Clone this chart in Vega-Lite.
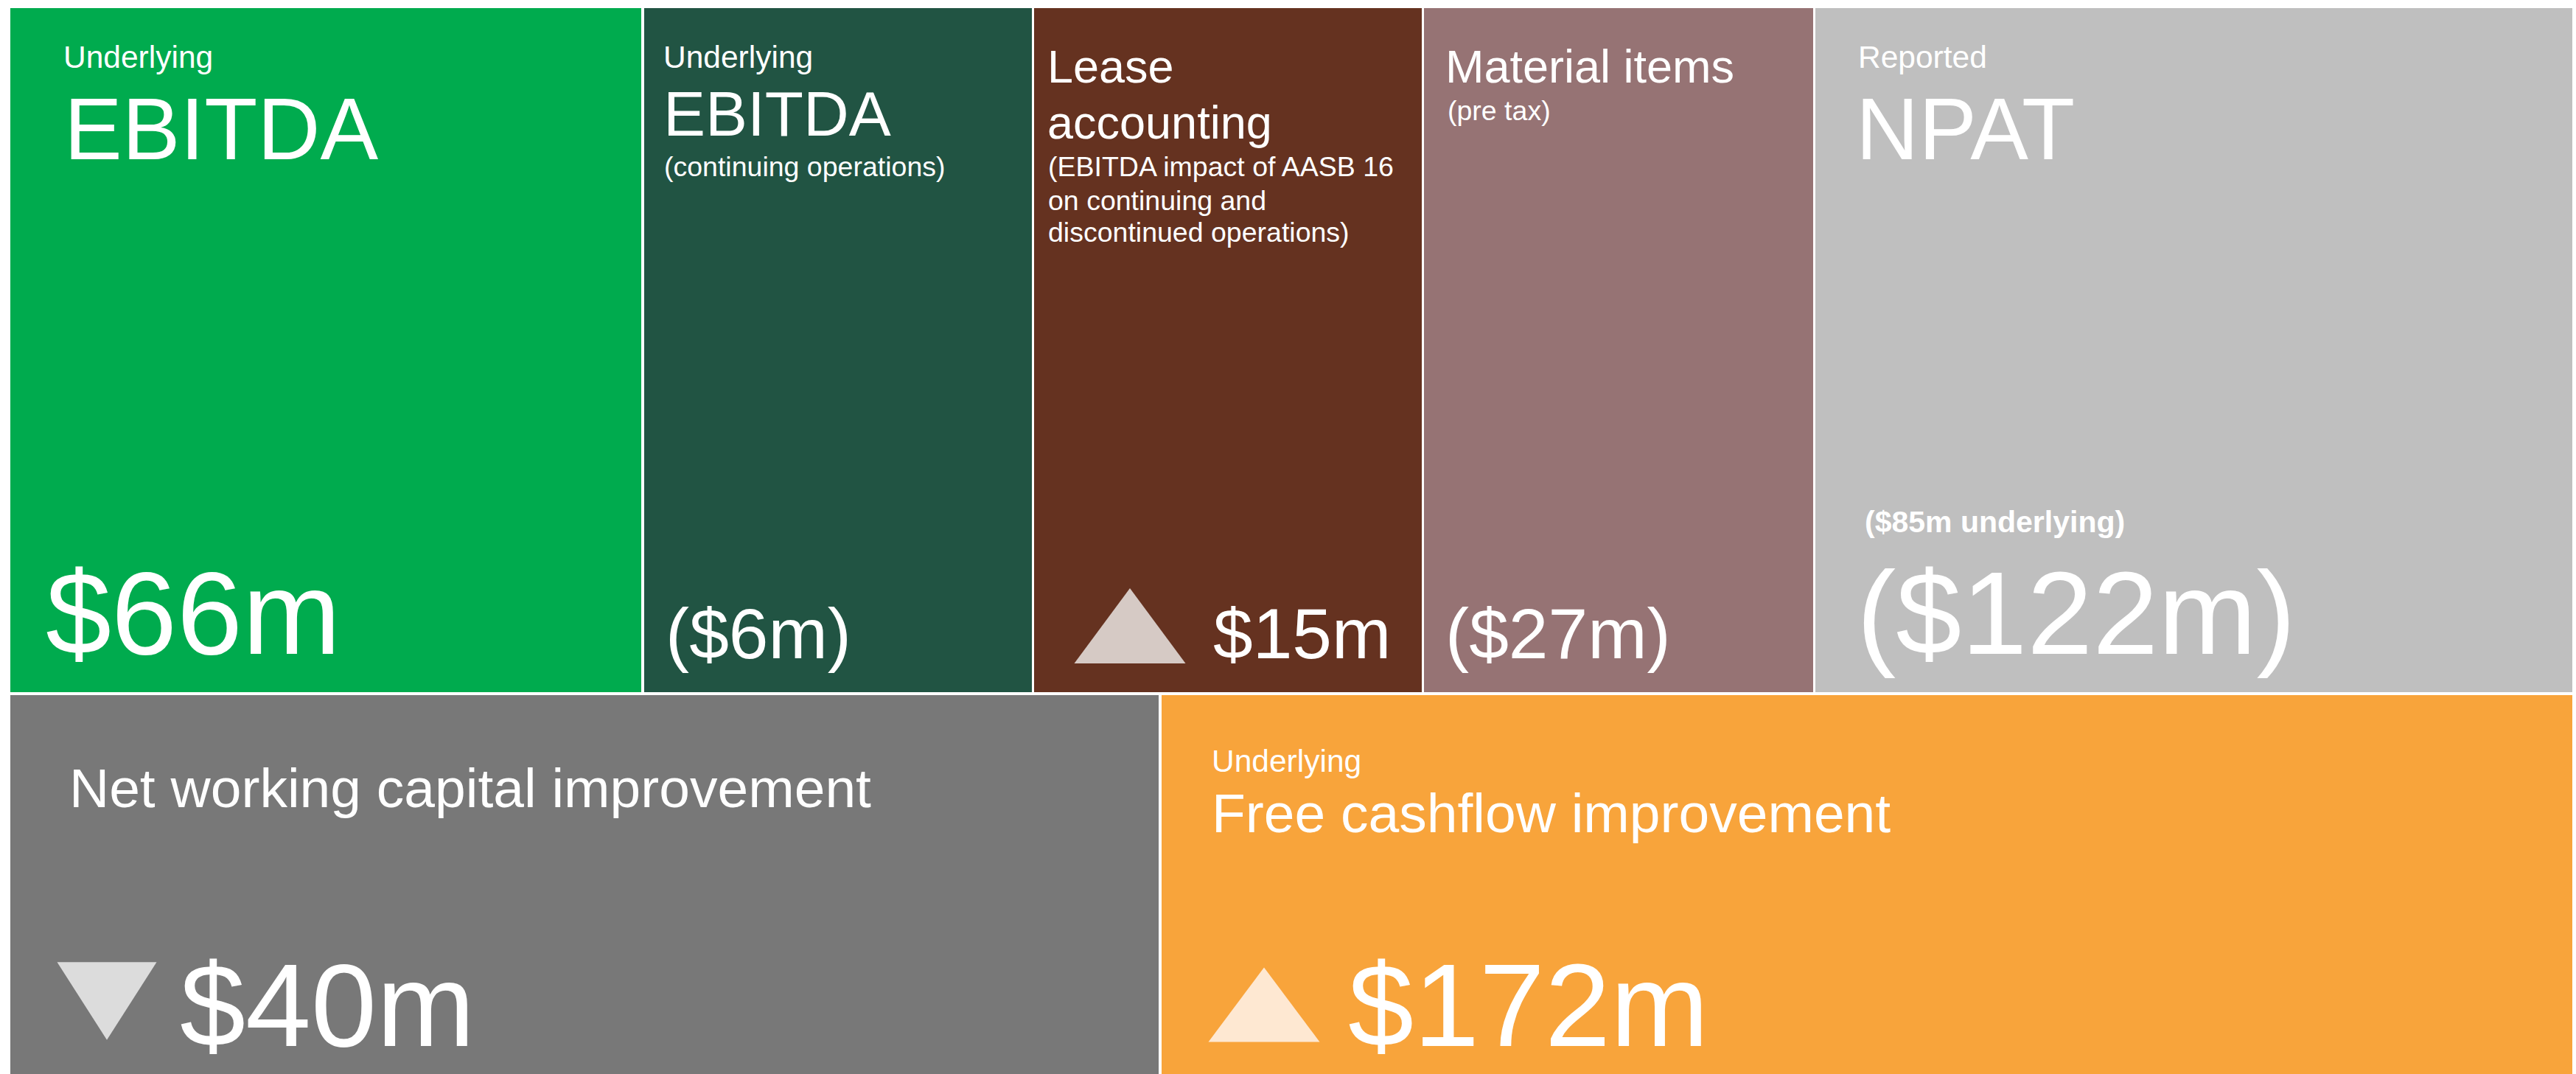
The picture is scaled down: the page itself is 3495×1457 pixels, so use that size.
{
  "$schema": "https://vega.github.io/schema/vega-lite/v6.json",
  "width": 3495,
  "height": 1457,
  "autosize": {"type": "fit", "contains": "padding"},
  "padding": 0,
  "background": "white",
  "config": {"view": {"stroke": null}},
  "datasets": {
    "tiles": [
      {"tile": "Underlying EBITDA", "x0": 14, "x1": 870, "y0": 11, "y1": 939},
      {"tile": "Underlying EBITDA (continuing operations)", "x0": 874, "x1": 1400, "y0": 11, "y1": 939},
      {"tile": "Lease accounting", "x0": 1403, "x1": 1929, "y0": 11, "y1": 939},
      {"tile": "Material items", "x0": 1932, "x1": 2460, "y0": 11, "y1": 939},
      {"tile": "Reported NPAT", "x0": 2463, "x1": 3490, "y0": 11, "y1": 939},
      {"tile": "Net working capital improvement", "x0": 14, "x1": 1572, "y0": 943, "y1": 1457},
      {"tile": "Free cashflow improvement", "x0": 1576, "x1": 3490, "y0": 943, "y1": 1457}
    ],
    "texts": [
      {"role": "kicker", "text": "Underlying", "x": 86, "y": 92},
      {"role": "title116", "text": "EBITDA", "x": 87, "y": 216},
      {"role": "value157", "text": "$66m", "x": 62, "y": 887},
      {"role": "kicker", "text": "Underlying", "x": 900, "y": 92},
      {"role": "title84", "text": "EBITDA", "x": 900, "y": 184},
      {"role": "sub", "text": "(continuing operations)", "x": 901, "y": 239},
      {"role": "value95", "text": "($6m)", "x": 903, "y": 893},
      {"role": "title62", "text": "Lease", "x": 1421, "y": 112},
      {"role": "title62", "text": "accounting", "x": 1421, "y": 188},
      {"role": "sub", "text": "(EBITDA impact of AASB 16", "x": 1422, "y": 239},
      {"role": "sub", "text": "on continuing and", "x": 1422, "y": 285},
      {"role": "sub", "text": "discontinued operations)", "x": 1422, "y": 328},
      {"role": "value95", "text": "$15m", "x": 1646, "y": 893},
      {"role": "title62", "text": "Material items", "x": 1961, "y": 112},
      {"role": "sub", "text": "(pre tax)", "x": 1964, "y": 163},
      {"role": "value95", "text": "($27m)", "x": 1961, "y": 893},
      {"role": "kicker", "text": "Reported", "x": 2521, "y": 92},
      {"role": "title116", "text": "NPAT", "x": 2518, "y": 216},
      {"role": "bold", "text": "($85m underlying)", "x": 2530, "y": 722},
      {"role": "value157", "text": "($122m)", "x": 2519, "y": 887},
      {"role": "title74", "text": "Net working capital improvement", "x": 94, "y": 1095},
      {"role": "value157", "text": "$40m", "x": 244, "y": 1419},
      {"role": "kicker", "text": "Underlying", "x": 1644, "y": 1047},
      {"role": "title74", "text": "Free cashflow improvement", "x": 1644, "y": 1129},
      {"role": "value157", "text": "$172m", "x": 1829, "y": 1419}
    ],
    "triangles": [
      {"tile": "Lease accounting", "direction": "up", "x": 1533, "y": 849},
      {"tile": "Net working capital improvement", "direction": "down", "x": 145, "y": 1358},
      {"tile": "Free cashflow improvement", "direction": "up", "x": 1715, "y": 1363}
    ]
  },
  "layer": [
    {
      "data": {"name": "tiles"},
      "mark": {"type": "rect", "strokeWidth": 0},
      "encoding": {
        "x": {"field": "x0", "type": "quantitative", "scale": {"domain": [0, 3495], "nice": false, "zero": false}, "axis": null},
        "x2": {"field": "x1"},
        "y": {"field": "y0", "type": "quantitative", "scale": {"domain": [0, 1457], "reverse": true, "nice": false, "zero": false}, "axis": null},
        "y2": {"field": "y1"},
        "color": {
          "field": "tile", "type": "nominal", "legend": null,
          "scale": {
            "domain": ["Underlying EBITDA", "Underlying EBITDA (continuing operations)", "Lease accounting", "Material items", "Reported NPAT", "Net working capital improvement", "Free cashflow improvement"],
            "range": ["#00AB4E", "#215443", "#653220", "#967374", "#BFBFBF", "#787878", "#F8A43B"]
          }
        }
      }
    },
    {
      "data": {"name": "triangles"},
      "transform": [{"filter": "datum.tile === 'Lease accounting'"}],
      "mark": {"type": "point", "filled": true, "opacity": 1, "strokeWidth": 0, "color": "#D6CAC5", "shape": "M-1,0.675L1,0.675L0,-0.675Z", "size": 22801},
      "encoding": {
        "x": {"field": "x", "type": "quantitative", "scale": {"domain": [0, 3495], "nice": false, "zero": false}, "axis": null},
        "y": {"field": "y", "type": "quantitative", "scale": {"domain": [0, 1457], "reverse": true, "nice": false, "zero": false}, "axis": null}
      }
    },
    {
      "data": {"name": "triangles"},
      "transform": [{"filter": "datum.tile === 'Net working capital improvement'"}],
      "mark": {"type": "point", "filled": true, "opacity": 1, "strokeWidth": 0, "color": "#DCDCDC", "shape": "M-1,-0.78L1,-0.78L0,0.78Z", "size": 18225},
      "encoding": {
        "x": {"field": "x", "type": "quantitative", "axis": null},
        "y": {"field": "y", "type": "quantitative", "axis": null}
      }
    },
    {
      "data": {"name": "triangles"},
      "transform": [{"filter": "datum.tile === 'Free cashflow improvement'"}],
      "mark": {"type": "point", "filled": true, "opacity": 1, "strokeWidth": 0, "color": "#FEE8D2", "shape": "M-1,0.67L1,0.67L0,-0.67Z", "size": 22801},
      "encoding": {
        "x": {"field": "x", "type": "quantitative", "axis": null},
        "y": {"field": "y", "type": "quantitative", "axis": null}
      }
    },
    {
      "data": {"name": "texts"},
      "transform": [{"filter": "datum.role === 'kicker'"}],
      "mark": {"type": "text", "align": "left", "baseline": "alphabetic", "font": "Liberation Sans", "fontSize": 42.5, "color": "white"},
      "encoding": {"x": {"field": "x", "type": "quantitative", "axis": null}, "y": {"field": "y", "type": "quantitative", "axis": null}, "text": {"field": "text"}}
    },
    {
      "data": {"name": "texts"},
      "transform": [{"filter": "datum.role === 'title116'"}],
      "mark": {"type": "text", "align": "left", "baseline": "alphabetic", "font": "Liberation Sans", "fontSize": 118, "color": "white"},
      "encoding": {"x": {"field": "x", "type": "quantitative", "axis": null}, "y": {"field": "y", "type": "quantitative", "axis": null}, "text": {"field": "text"}}
    },
    {
      "data": {"name": "texts"},
      "transform": [{"filter": "datum.role === 'title84'"}],
      "mark": {"type": "text", "align": "left", "baseline": "alphabetic", "font": "Liberation Sans", "fontSize": 85.5, "color": "white"},
      "encoding": {"x": {"field": "x", "type": "quantitative", "axis": null}, "y": {"field": "y", "type": "quantitative", "axis": null}, "text": {"field": "text"}}
    },
    {
      "data": {"name": "texts"},
      "transform": [{"filter": "datum.role === 'title74'"}],
      "mark": {"type": "text", "align": "left", "baseline": "alphabetic", "font": "Liberation Sans", "fontSize": 75, "color": "white"},
      "encoding": {"x": {"field": "x", "type": "quantitative", "axis": null}, "y": {"field": "y", "type": "quantitative", "axis": null}, "text": {"field": "text"}}
    },
    {
      "data": {"name": "texts"},
      "transform": [{"filter": "datum.role === 'title62'"}],
      "mark": {"type": "text", "align": "left", "baseline": "alphabetic", "font": "Liberation Sans", "fontSize": 63, "color": "white"},
      "encoding": {"x": {"field": "x", "type": "quantitative", "axis": null}, "y": {"field": "y", "type": "quantitative", "axis": null}, "text": {"field": "text"}}
    },
    {
      "data": {"name": "texts"},
      "transform": [{"filter": "datum.role === 'sub'"}],
      "mark": {"type": "text", "align": "left", "baseline": "alphabetic", "font": "Liberation Sans", "fontSize": 37.5, "color": "white"},
      "encoding": {"x": {"field": "x", "type": "quantitative", "axis": null}, "y": {"field": "y", "type": "quantitative", "axis": null}, "text": {"field": "text"}}
    },
    {
      "data": {"name": "texts"},
      "transform": [{"filter": "datum.role === 'bold'"}],
      "mark": {"type": "text", "align": "left", "baseline": "alphabetic", "font": "Liberation Sans", "fontSize": 41, "fontWeight": "bold", "color": "white"},
      "encoding": {"x": {"field": "x", "type": "quantitative", "axis": null}, "y": {"field": "y", "type": "quantitative", "axis": null}, "text": {"field": "text"}}
    },
    {
      "data": {"name": "texts"},
      "transform": [{"filter": "datum.role === 'value157'"}],
      "mark": {"type": "text", "align": "left", "baseline": "alphabetic", "font": "Liberation Sans", "fontSize": 160, "color": "white"},
      "encoding": {"x": {"field": "x", "type": "quantitative", "axis": null}, "y": {"field": "y", "type": "quantitative", "axis": null}, "text": {"field": "text"}}
    },
    {
      "data": {"name": "texts"},
      "transform": [{"filter": "datum.role === 'value95'"}],
      "mark": {"type": "text", "align": "left", "baseline": "alphabetic", "font": "Liberation Sans", "fontSize": 96.5, "color": "white"},
      "encoding": {"x": {"field": "x", "type": "quantitative", "axis": null}, "y": {"field": "y", "type": "quantitative", "axis": null}, "text": {"field": "text"}}
    }
  ]
}
